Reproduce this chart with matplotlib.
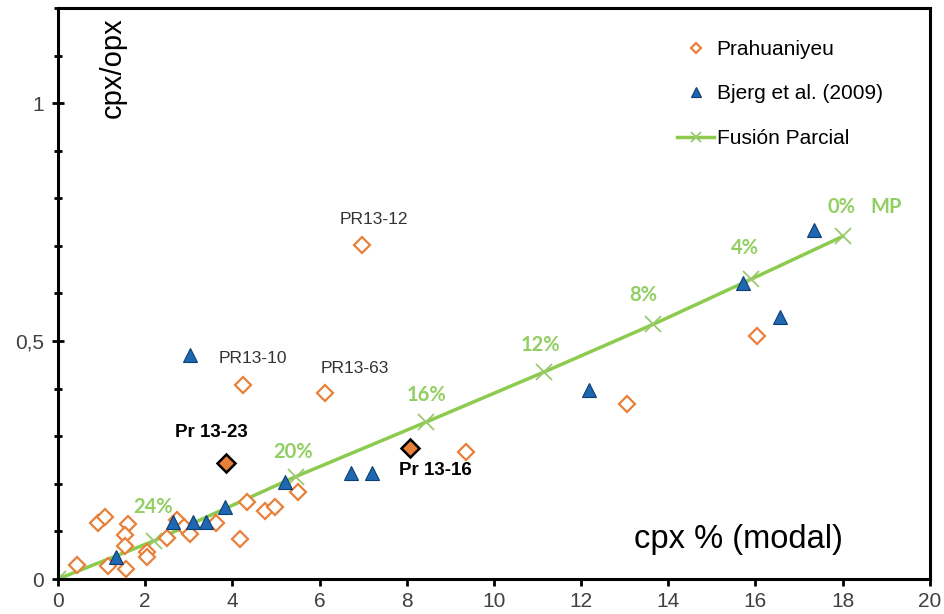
import matplotlib
matplotlib.use("Agg")
import matplotlib.pyplot as plt
from matplotlib.ticker import MultipleLocator, FixedLocator

# Prahuaniyeu (open diamonds)
prah_x = [0.43, 0.92, 1.08, 1.15, 1.56, 1.6, 1.54, 1.54, 2.04, 2.04, 2.5, 2.73, 2.9, 3.03,
          3.62, 4.17, 4.33, 4.74, 4.98, 5.5, 6.12, 4.24, 6.97, 9.36, 13.05, 16.03]
prah_y = [0.03, 0.117, 0.13, 0.027, 0.022, 0.115, 0.093, 0.07, 0.057, 0.046, 0.086, 0.124,
          0.11, 0.095, 0.118, 0.084, 0.162, 0.143, 0.151, 0.183, 0.39, 0.408, 0.702, 0.267,
          0.368, 0.51]

# highlighted samples
hl_x = [3.85, 8.07]
hl_y = [0.244, 0.275]
hl_names = ["Pr 13-23", "Pr 13-16"]

# Bjerg et al. (2009)
bjerg_x = [1.33, 2.64, 3.1, 3.4, 3.83, 5.2, 6.72, 7.2, 3.03, 12.18, 15.71, 16.56, 17.34]
bjerg_y = [0.046, 0.12, 0.12, 0.12, 0.151, 0.204, 0.222, 0.222, 0.47, 0.397, 0.622, 0.55, 0.733]

# partial melting trend
melt_x = [0, 2.2, 5.45, 8.45, 11.15, 13.65, 15.9, 18.0]
melt_y = [0, 0.08, 0.215, 0.33, 0.435, 0.535, 0.63, 0.72]
melt_labels = ["", "24%", "20%", "16%", "12%", "8%", "4%", "0%"]

orange = "#E8803A"
blue = "#1F67B1"
green = "#8CCB4E"
green_txt = "#92CF62"

plt.rcParams["font.family"] = ["Liberation Sans", "DejaVu Sans"]

fig = plt.figure(figsize=(9.44, 6.14), dpi=100)
ax = fig.add_axes([0.0614, 0.057, 0.9236, 0.93])

ax.plot(melt_x, melt_y, color=green, lw=2.5, marker="x", ms=11, mew=1.3,
        mec="#9CC870", label="Fusión Parcial", zorder=2)
ax.plot(prah_x, prah_y, ls="none", marker="D", ms=8, mfc="white", mec=orange, mew=1.6,
        label="Prahuaniyeu", zorder=3)
ax.plot(bjerg_x, bjerg_y, ls="none", marker="^", ms=10, mfc=blue, mec="#0E3F73", mew=0.8,
        label="Bjerg et al. (2009)", zorder=4)
ax.plot(hl_x, hl_y, ls="none", marker="D", ms=9, mfc=orange, mec="black", mew=1.8, zorder=5)

# sample labels
ax.text(3.53, 0.307, hl_names[0], fontsize=13.5, fontweight="bold", ha="center", va="center")
ax.text(8.65, 0.227, hl_names[1], fontsize=13.5, fontweight="bold", ha="center", va="center")
ax.text(4.47, 0.464, "PR13-10", fontsize=12.5, color="#333333", ha="center", va="center")
ax.text(6.81, 0.443, "PR13-63", fontsize=12.5, color="#333333", ha="center", va="center")
ax.text(7.25, 0.756, "PR13-12", fontsize=12.5, color="#333333", ha="center", va="center")

# melting percentages
offsets = [(0, 0), (-0.02, 0.071), (-0.06, 0.052), (0.01, 0.057), (-0.09, 0.057),
           (-0.23, 0.062), (-0.14, 0.065), (-0.02, 0.061)]
for x, y, lab, (dx, dy) in zip(melt_x, melt_y, melt_labels, offsets):
    if lab:
        ax.text(x + dx, y + dy, lab, fontsize=14.5, fontweight="bold", color=green_txt,
                family=["Lato", "DejaVu Sans"], ha="center", va="center")
ax.text(18.99, 0.781, "MP", fontsize=14.5, fontweight="bold", color=green_txt,
        family=["Lato", "DejaVu Sans"], ha="center", va="center")

# axis titles inside the frame
ax.text(1.25, 1.18, "cpx/opx", fontsize=21, rotation=90, ha="center", va="top")
ax.text(18.0, 0.082, "cpx % (modal)", fontsize=23.5, ha="right", va="center")

ax.set_xlim(0, 20)
ax.set_ylim(0, 1.2)
ax.xaxis.set_major_locator(MultipleLocator(2))
ax.yaxis.set_major_locator(FixedLocator([0, 0.5, 1]))
ax.yaxis.set_minor_locator(MultipleLocator(0.1))
ax.set_yticklabels(["0", "0,5", "1"])
ax.tick_params(axis="x", direction="out", length=5, width=2, labelsize=15,
               labelcolor="#404040", pad=4)
ax.tick_params(axis="y", which="both", direction="inout", length=8, width=2,
               labelsize=15, labelcolor="#404040", pad=6)
ax.tick_params(axis="y", which="minor", length=6)
for sp in ax.spines.values():
    sp.set_linewidth(2.2)

handles, labels = ax.get_legend_handles_labels()
order = [1, 2, 0]
ax.legend([handles[i] for i in order], [labels[i] for i in order], loc="upper left",
          bbox_to_anchor=(0.71, 0.944), frameon=False, fontsize=15, handlelength=1.8,
          handletextpad=0.1, labelspacing=1.22, markerscale=0.65, borderpad=0,
          borderaxespad=0)

fig.savefig("out.png", dpi=100)
